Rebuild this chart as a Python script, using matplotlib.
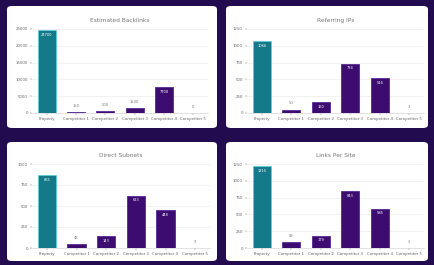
import matplotlib.pyplot as plt
from matplotlib.patches import FancyBboxPatch

# --- data ---
categories = ["Property", "Competitor 1", "Competitor 2", "Competitor 3", "Competitor 4", "Competitor 5"]

titles = ["Estimated Backlinks", "Referring IPs", "Direct Subnets", "Links Per Site"]

backlinks = [24700, 150, 500, 1500, 7700, 0]
referring_ips = [1066, 50, 160, 734, 516, 3]
subnets = [865, 48, 143, 623, 448, 3]
links_per_site = [1215, 89, 179, 843, 585, 3]

yticks_list = [
    [0, 5000, 10000, 15000, 20000, 25000],
    [0, 250, 500, 750, 1000, 1250],
    [0, 250, 500, 750, 1000],
    [0, 250, 500, 750, 1000, 1250],
]
series = [backlinks, referring_ips, subnets, links_per_site]

BG = "#220c4f"
TEAL = "#147a89"
PURPLE = "#3c0c70"

W, H = 434, 265
fig = plt.figure(figsize=(W / 100, H / 100), dpi=100)
fig.patch.set_facecolor(BG)


def box(x0, y0, x1, y1):
    # pixel box (top-left origin) -> figure fraction rect
    return [x0 / W, 1 - y1 / H, (x1 - x0) / W, (y1 - y0) / H]


cards = [(7, 6, 217, 128), (226, 6, 428, 128), (7, 142, 217, 261), (226, 142, 428, 261)]
axes_px = [(32, 29, 208, 113), (247, 29, 424, 113), (32, 164, 210, 248), (247, 164, 424, 248)]

for card in cards:
    x0, y0, x1, y1 = card
    r = box(x0, y0, x1, y1)
    fig.patches.append(FancyBboxPatch((r[0], r[1]), r[2], r[3],
                                      boxstyle="round,pad=0,rounding_size=0.012",
                                      transform=fig.transFigure, facecolor="white",
                                      edgecolor="none", zorder=-5))

for i in range(4):
    ax = fig.add_axes(box(*axes_px[i]))
    ax.set_zorder(2)
    vals = series[i]
    ticks = yticks_list[i]
    colors = [TEAL] + [PURPLE] * (len(vals) - 1)
    edges = ["#5fd0dc"] + ["#5a2a96"] * (len(vals) - 1)
    x = range(len(categories))
    ax.bar(x, vals, width=0.62, color=colors, edgecolor=edges, linewidth=0.6, zorder=3)
    ax.set_ylim(0, ticks[-1])
    ax.set_xlim(-0.5, len(categories) - 0.5)
    ax.set_yticks(ticks)
    ax.set_yticklabels([str(t) for t in ticks])
    ax.set_xticks(list(x))
    ax.set_xticklabels(categories)
    ax.tick_params(axis="both", labelsize=2.8, colors="#666666", length=1.5, width=0.3, pad=1.5)
    ax.grid(axis="y", color="#e6e6e6", linewidth=0.4, zorder=0)
    for s in ["top", "right", "left"]:
        ax.spines[s].set_visible(False)
    ax.spines["bottom"].set_color("#cccccc")
    ax.spines["bottom"].set_linewidth(0.4)
    ax.set_title(titles[i], fontsize=4.2, color="#777777", pad=5)

    top = ticks[-1]
    for xi, v in zip(x, vals):
        if v > 0.1 * top:
            ax.text(xi, v - 0.03 * top, f"{v}", ha="center", va="top",
                    fontsize=2.6, color="white", zorder=4)
        else:
            ax.text(xi, v + 0.05 * top, f"{v}", ha="center", va="bottom",
                    fontsize=2.6, color="#777777", zorder=4)

plt.savefig("out.png", dpi=100, facecolor=BG)
